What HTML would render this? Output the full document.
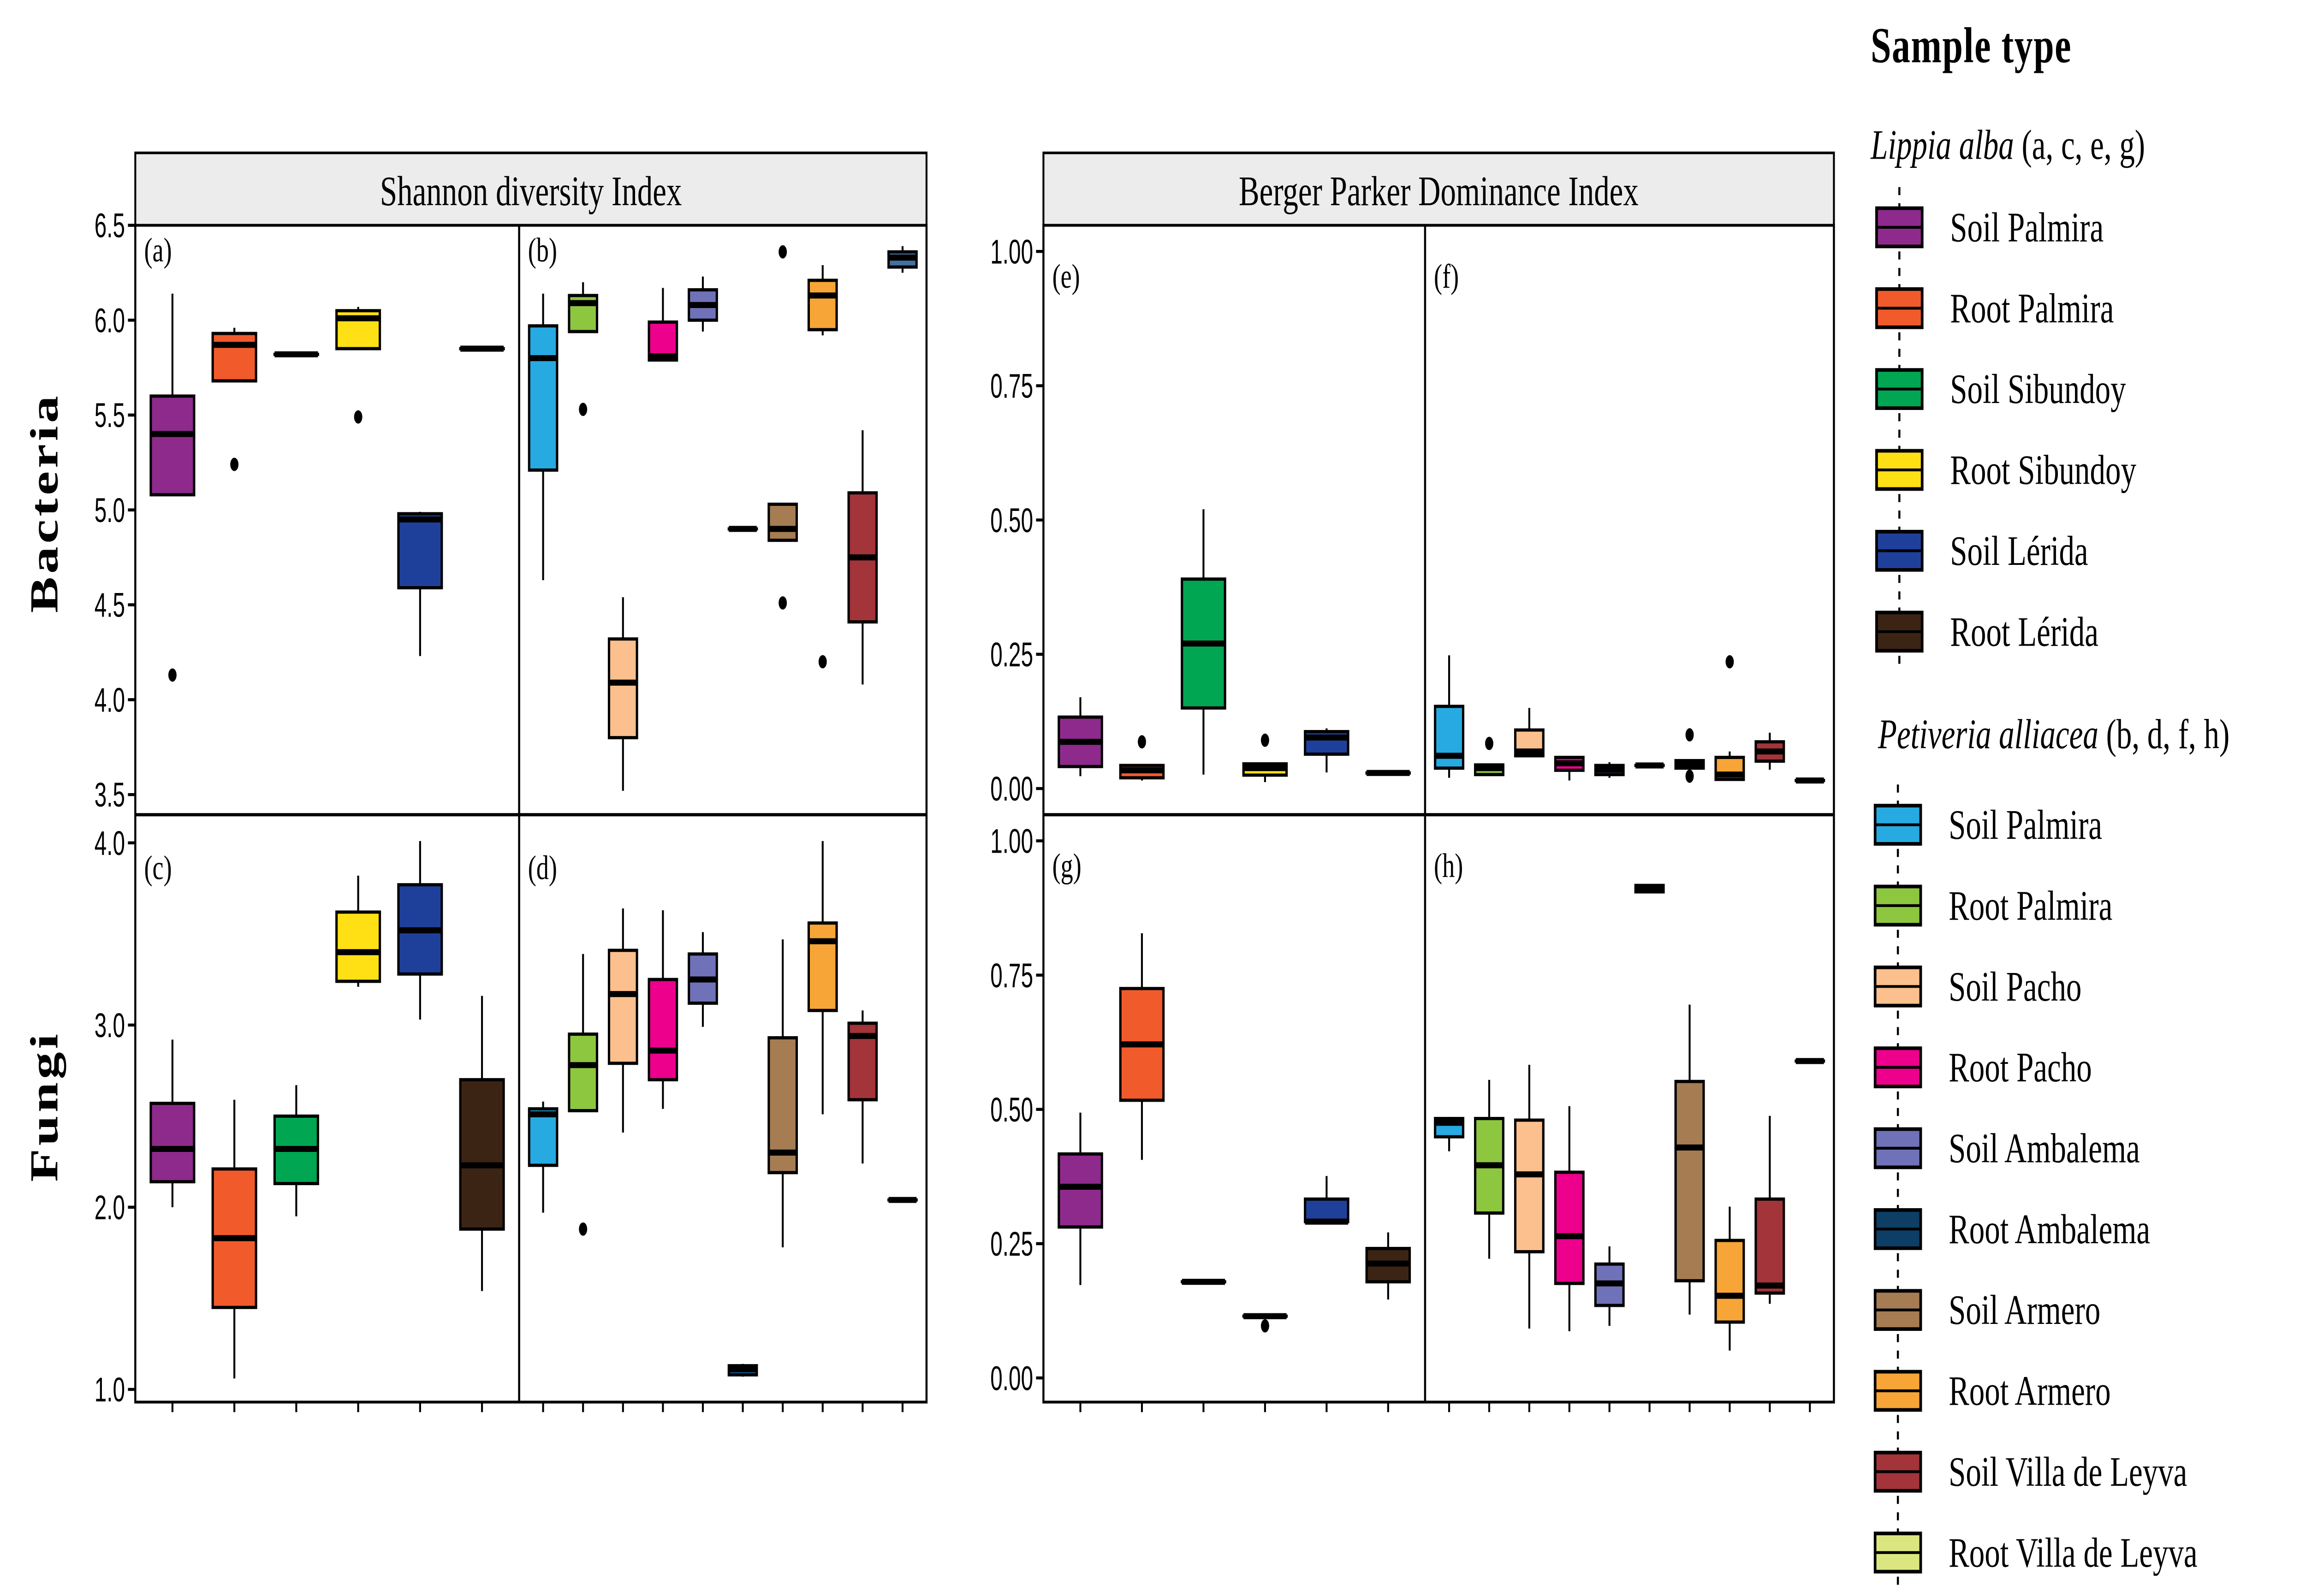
<!DOCTYPE html>
<html><head><meta charset="utf-8"><style>
html,body{margin:0;padding:0;background:#fff;width:100%;height:100%;overflow:hidden;}
svg{display:block;position:fixed;left:0;top:0;width:100vw;height:100vh;}
</style></head><body>
<svg id="root" viewBox="0 0 1568 793.4" preserveAspectRatio="none" xmlns="http://www.w3.org/2000/svg">
<g id="chart"></g>
</svg>
<script>
// ---------- data (values: [lowWhisker, Q1, median, Q3, highWhisker]) ----------
const lippiaCats = ["Soil Palmira","Root Palmira","Soil Sibundoy","Root Sibundoy","Soil Lérida","Root Lérida"];
const petivCats = ["Soil Palmira","Root Palmira","Soil Pacho","Root Pacho","Soil Ambalema","Root Ambalema","Soil Armero","Root Armero","Soil Villa de Leyva","Root Villa de Leyva"];
const lippiaColors = ["#8e2a8c","#f15a2b","#00a651","#ffe015","#1f409a","#3c2415"];
const petivColors = ["#27aae1","#8dc63f","#fbc08d","#ec008c","#6f72b8","#0d3f66","#a67c52","#f7a536","#a3343a","#dce680"];

const shannonBacLippia = [[5.08,5.08,5.40,5.60,6.14],[5.68,5.68,5.87,5.93,5.96],[5.82,5.82,5.82,5.82,5.82],[5.85,5.85,6.01,6.05,6.07],[4.23,4.59,4.95,4.98,4.99],[5.85,5.85,5.85,5.85,5.85]];
const shannonBacLippiaOut = [[4.13],[5.24],[],[5.49],[],[]];
const shannonBacPetiv = [[4.63,5.21,5.80,5.97,6.14],[5.94,5.94,6.09,6.13,6.20],[3.52,3.80,4.09,4.32,4.54],[5.79,5.79,5.81,5.99,6.17],[5.94,6.00,6.08,6.16,6.23],[4.90,4.90,4.90,4.90,4.90],[4.84,4.84,4.90,5.03,5.03],[5.92,5.95,6.13,6.21,6.29],[4.08,4.41,4.75,5.09,5.42],[6.25,6.28,6.33,6.36,6.39]];
const shannonBacPetivOut = [[],[5.53],[],[],[],[],[6.36,4.51],[4.20],[],[]];

const shannonFunLippia = [[2.00,2.14,2.32,2.57,2.92],[1.06,1.45,1.83,2.21,2.59],[1.95,2.13,2.32,2.50,2.67],[3.21,3.24,3.40,3.62,3.82],[3.03,3.28,3.52,3.77,4.01],[1.54,1.88,2.23,2.70,3.16]];
const shannonFunLippiaOut = [[],[],[],[],[],[]];
const shannonFunPetiv = [[1.97,2.23,2.51,2.54,2.58],[2.53,2.53,2.78,2.95,3.39],[2.41,2.79,3.17,3.41,3.64],[2.54,2.70,2.86,3.25,3.63],[2.99,3.12,3.25,3.39,3.51],[1.07,1.08,1.11,1.13,1.14],[1.78,2.19,2.30,2.93,3.47],[2.51,3.08,3.46,3.56,4.01],[2.24,2.59,2.94,3.01,3.08],[2.04,2.04,2.04,2.04,2.04]];
const shannonFunPetivOut = [[],[1.88],[],[],[],[],[],[],[],[]];

const bpBacLippia = [[0.023,0.041,0.087,0.133,0.17],[0.015,0.02,0.034,0.043,0.043],[0.026,0.15,0.27,0.39,0.52],[0.012,0.025,0.038,0.046,0.046],[0.03,0.064,0.095,0.106,0.112],[0.029,0.029,0.029,0.029,0.029]];
const bpBacLippiaOut = [[],[0.087],[],[0.09],[],[]];
const bpBacPetiv = [[0.02,0.038,0.061,0.153,0.248],[0.026,0.026,0.038,0.044,0.044],[0.061,0.061,0.069,0.109,0.15],[0.015,0.034,0.047,0.058,0.058],[0.02,0.026,0.035,0.043,0.049],[0.043,0.043,0.043,0.043,0.043],[0.038,0.038,0.046,0.052,0.052],[0.017,0.017,0.026,0.058,0.069],[0.035,0.051,0.069,0.087,0.104],[0.015,0.015,0.015,0.015,0.015]];
const bpBacPetivOut = [[],[0.084],[],[],[],[],[0.1,0.023],[0.236],[],[]];

const bpFunLippia = [[0.173,0.281,0.356,0.417,0.494],[0.406,0.517,0.621,0.725,0.828],[0.179,0.179,0.179,0.179,0.179],[0.115,0.115,0.115,0.115,0.115],[0.291,0.291,0.291,0.333,0.376],[0.146,0.179,0.213,0.241,0.271]];
const bpFunLippiaOut = [[],[],[],[0.097],[],[]];
const bpFunPetiv = [[0.422,0.449,0.475,0.483,0.486],[0.222,0.307,0.396,0.483,0.555],[0.092,0.235,0.379,0.48,0.583],[0.087,0.176,0.264,0.383,0.506],[0.097,0.135,0.176,0.212,0.245],[0.905,0.905,0.91,0.917,0.917],[0.118,0.181,0.429,0.552,0.695],[0.051,0.104,0.153,0.256,0.319],[0.138,0.158,0.172,0.333,0.488],[0.59,0.59,0.59,0.59,0.59]];
const bpFunPetivOut = [[],[],[],[],[],[],[],[],[],[]];

const shannonBacTicks = ["3.5","4.0","4.5","5.0","5.5","6.0","6.5"];
const shannonFunTicks = ["1.0","2.0","3.0","4.0"];
const bpTicks = ["0.00","0.25","0.50","0.75","1.00"];

// ---------- drawing ----------
const NS = "http://www.w3.org/2000/svg";
const svg = document.getElementById('chart');
function mk(tag, attrs, parent){ const e=document.createElementNS(NS,tag); for(const k in attrs) e.setAttribute(k,attrs[k]); (parent||svg).appendChild(e); return e; }
const serif = '"Liberation Serif", serif';
const sans = '"Liberation Sans", sans-serif';

function panel(x0,x1,y0,y1,vmin,vmax,data,outs,colors,label,name,overrides){
  const g = mk('g',{});
  
  
  const n = data.length;
  const step = (x1-x0)/(n-1+1.2);
  const xs = i => x0 + step*(0.6+i);
  const ys = v => y1 - (v-vmin)/(vmax-vmin)*(y1-y0);
  const bw = step*0.7;
  data.forEach((d,i)=>{
    const bg = mk('g',{},g);
    
    
    const cx = xs(i);
    const col = (overrides && overrides[i]) || colors[i];
    mk('line',{x1:cx,x2:cx,y1:ys(d[4]),y2:ys(d[3]),stroke:'#000','stroke-width':1.3},bg);
    mk('line',{x1:cx,x2:cx,y1:ys(d[1]),y2:ys(d[0]),stroke:'#000','stroke-width':1.3},bg);
    const top = ys(d[3]), bot = ys(d[1]);
    mk('rect',{x:cx-bw/2,y:top,width:bw,height:Math.max(bot-top,0.01),fill:col,stroke:'#000','stroke-width':1.6},bg);
    mk('line',{x1:cx-bw/2,x2:cx+bw/2,y1:ys(d[2]),y2:ys(d[2]),stroke:'#000','stroke-width':3},bg);
    outs[i].forEach(v=>{
      const o = mk('ellipse',{cx:cx,cy:ys(v),rx:2.8,ry:3.3,fill:'#000'},bg);
      
      
    });
  });
  const t = mk('text',{x:x0+6,y:y0+18,'font-family':serif,'font-size':17,fill:'#000'},g);
  t.textContent = label;
  
  
  return xs;
}

function yaxis(x, y0,y1,vmin,vmax,ticks,name){
  const g = mk('g',{});
  
  
  ticks.forEach(tk=>{
    const v = parseFloat(tk);
    const y = y1 - (v-vmin)/(vmax-vmin)*(y1-y0);
    mk('line',{x1:x-5,x2:x,y1:y,y2:y,stroke:'#000','stroke-width':1.5},g);
    const t = mk('text',{x:x-7,y:y+6,'text-anchor':'end','font-family':sans,'font-size':17,fill:'#000',transform:`translate(${x-7},0) scale(0.88,1) translate(${-(x-7)},0)`},g);
    t.textContent = tk;
    
    
  });
}

function xticks(xs,n,y,name){
  const g = mk('g',{});
  
  
  for(let i=0;i<n;i++){ mk('line',{x1:xs(i),x2:xs(i),y1:y,y2:y+5,stroke:'#000','stroke-width':1.3},g); }
}

const L = {x0:92, xm:353, x1:630};
const R = {x0:709.5, xm:969, x1:1247};
const stripTop=76, stripBot=112, rowMid=405, bottom=697;

function strip(b,text,name){
  const r = mk('rect',{x:b.x0,y:stripTop,width:b.x1-b.x0,height:stripBot-stripTop,fill:'#ececec',stroke:'#000','stroke-width':1.3});
  
  
  const t = mk('text',{x:(b.x0+b.x1)/2,y:stripTop+26,'text-anchor':'middle','font-family':serif,'font-size':21,fill:'#000'});
  t.textContent = text;
  
  
}
strip(L,'Shannon diversity Index','shannon-strip');
strip(R,'Berger Parker Dominance Index','berger-parker-strip');

const sbY0 = 112, sbY1 = 395;
const sfY0 = 419, sfY1 = 690.7;
const bpbY0 = 125, bpbY1 = 392;
const bpfY0 = 418, bpfY1 = 685;

const xa = panel(L.x0,L.xm,sbY0,sbY1,3.5,6.5,shannonBacLippia,shannonBacLippiaOut,lippiaColors,'(a)','panel-a');
const xb = panel(L.xm,L.x1,sbY0,sbY1,3.5,6.5,shannonBacPetiv,shannonBacPetivOut,petivColors,'(b)','panel-b',{5:'#0d3f66',9:'#4371a0'});
panel(L.x0,L.xm,sfY0,sfY1,1.0,4.0,shannonFunLippia,shannonFunLippiaOut,lippiaColors,'(c)','panel-c');
panel(L.xm,L.x1,sfY0,sfY1,1.0,4.0,shannonFunPetiv,shannonFunPetivOut,petivColors,'(d)','panel-d',{5:'#1072b8'});
const xe = panel(R.x0,R.xm,bpbY0,bpbY1,0,1,bpBacLippia,bpBacLippiaOut,lippiaColors,'(e)','panel-e');
const xf = panel(R.xm,R.x1,bpbY0,bpbY1,0,1,bpBacPetiv,bpBacPetivOut,petivColors,'(f)','panel-f');
panel(R.x0,R.xm,bpfY0,bpfY1,0,1,bpFunLippia,bpFunLippiaOut,lippiaColors,'(g)','panel-g');
panel(R.xm,R.x1,bpfY0,bpfY1,0,1,bpFunPetiv,bpFunPetivOut,petivColors,'(h)','panel-h');

function frame(b,name){
  const g = mk('g',{});
  
  
  mk('rect',{x:b.x0,y:stripBot,width:b.x1-b.x0,height:bottom-stripBot,fill:'none',stroke:'#000','stroke-width':1.4},g);
  mk('line',{x1:b.xm,x2:b.xm,y1:stripBot,y2:bottom,stroke:'#000','stroke-width':1.4},g);
  mk('line',{x1:b.x0,x2:b.x1,y1:rowMid,y2:rowMid,stroke:'#000','stroke-width':1.6},g);
}
frame(L,'shannon-frame');
frame(R,'berger-parker-frame');

yaxis(L.x0,sbY0,sbY1,3.5,6.5,shannonBacTicks,'shannon-bacteria-y-axis');
yaxis(L.x0,sfY0,sfY1,1.0,4.0,shannonFunTicks,'shannon-fungi-y-axis');
yaxis(R.x0,bpbY0,bpbY1,0,1,bpTicks,'bp-bacteria-y-axis');
yaxis(R.x0,bpfY0,bpfY1,0,1,bpTicks,'bp-fungi-y-axis');

xticks(xa,6,bottom,'x-ticks-c');
xticks(xb,10,bottom,'x-ticks-d');
xticks(xe,6,bottom,'x-ticks-g');
xticks(xf,10,bottom,'x-ticks-h');

function rowTitle(text,y,name){
  const t = mk('text',{x:0,y:0,'text-anchor':'middle','font-family':serif,'font-size':27,'font-weight':'bold',fill:'#000',transform:`translate(39,${y}) rotate(-90)`,'letter-spacing':'1.5'});
  t.textContent = text;
  
  
}
rowTitle('Bacteria',250,'bacteria-row-title');
rowTitle('Fungi',550,'fungi-row-title');

const lg = mk('g',{});


function ltext(x,y,html,size,extra,name){
  const t = mk('text',Object.assign({x:x,y:y,'font-family':serif,'font-size':size,fill:'#000'},extra||{}),lg);
  t.innerHTML = html;
  
  
}
ltext(1272,31,'Sample type',25,{'font-weight':'bold','letter-spacing':'0.5'},'legend-title');
ltext(1272,79,'<tspan font-style="italic">Lippia alba</tspan> (a, c, e, g)',21,{},'legend-lippia-header');
ltext(1277,372,'<tspan font-style="italic">Petiveria alliacea</tspan> (b, d, f, h)',21,{},'legend-petiveria-header');
function lentry(kx,cy,col,label){
  const g = mk('g',{},lg);
  
  
  const cx = kx+15.5;
  mk('line',{x1:cx,x2:cx,y1:cy-20,y2:cy+20,stroke:'#000','stroke-width':1.4,'stroke-dasharray':'4,4'},g);
  mk('rect',{x:kx,y:cy-9.5,width:31,height:19,fill:col,stroke:'#000','stroke-width':1.8},g);
  mk('line',{x1:kx,x2:kx+31,y1:cy,y2:cy,stroke:'#000','stroke-width':1.4},g);
  const t = mk('text',{x:kx+50,y:cy+7,'font-family':serif,'font-size':21,fill:'#000'},g);
  t.textContent = label;
}
lippiaCats.forEach((c,i)=>lentry(1276,113+i*40.2,lippiaColors[i],c));
petivCats.forEach((c,i)=>lentry(1275,410+i*40.2,petivColors[i],c));
</script>
</body></html>
